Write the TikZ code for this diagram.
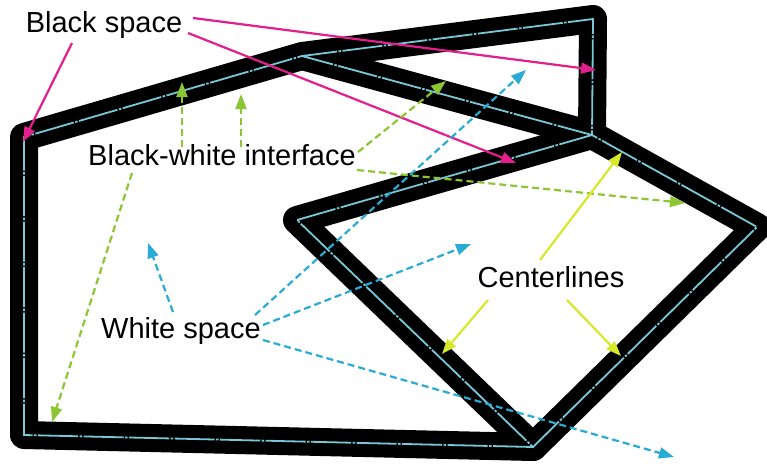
\documentclass[tikz,border=0pt]{standalone}
\usepackage{fontspec}
\setmainfont{Liberation Sans}
\usetikzlibrary{arrows.meta}
\definecolor{magline}{RGB}{228,30,140}
\definecolor{greenline}{RGB}{140,198,50}
\definecolor{cyanline}{RGB}{40,172,212}
\definecolor{yellowline}{RGB}{214,232,40}
\definecolor{centercol}{RGB}{120,200,215}
\tikzset{
  band/.style={line width=28pt, black, line join=round, line cap=round},
  cline/.style={line width=1.8pt, centercol, dash pattern=on 40pt off 1.5pt on 2.5pt off 1.5pt, line join=miter},
  lab/.style={font=\fontsize{29}{34}\selectfont, inner sep=0pt, anchor=base},
  tipA/.style={-{Triangle[length=15pt,width=11pt]}},
  bsarrow/.style={tipA, magline, line width=2.2pt},
  bwarrow/.style={tipA, greenline, line width=2.2pt, dash pattern=on 7pt off 4pt},
  wsarrow/.style={tipA, cyanline, line width=2.2pt, dash pattern=on 7pt off 4pt},
  clarrow/.style={tipA, yellowline, line width=2.2pt}
}
\begin{document}
\begin{tikzpicture}[x=1pt,y=-1pt]
\useasboundingbox (0,0) rectangle (767,464);
\fill[white] (0,0) rectangle (767,464);
% polygon vertices (centerline)
\coordinate (pBL) at (24,435);
\coordinate (pTL) at (24,137);
\coordinate (pTM) at (302,56);
\coordinate (pTR) at (593,19);
\coordinate (pJ) at (592,135);
\coordinate (pQL) at (297,220);
\coordinate (pQR) at (757,227);
\coordinate (pQB) at (533,447);
% black bands
\draw[band] (pQB) -- (pBL) -- (pTL) -- (pTM) -- (pTR) -- (pJ) -- (pTM);
\draw[band] (pQL) -- (pJ) -- (pQR) -- (pQB) -- cycle;
% centerlines
\draw[cline] (pQB) -- (pBL) -- (pTL) -- (pTM) -- (pTR) -- (pJ) -- (pTM);
\draw[cline] (pQL) -- (pJ) -- (pQR) -- (pQB) -- cycle;
% labels
\node[lab] (bs) at (104,32) {Black space};
\node[lab] (bw) at (222,165) {Black-white interface};
\node[lab] (ws) at (181,338) {White space};
\node[lab] (cl) at (551,287) {Centerlines};
% arrow end points
\coordinate (bs1s) at (72,43);   \coordinate (bs1e) at (23,142);
\coordinate (bs2s) at (193,18);  \coordinate (bs2e) at (596,70);
\coordinate (bs3s) at (188,33);  \coordinate (bs3e) at (516,163);
\coordinate (bw1s) at (182,147); \coordinate (bw1e) at (182,82);
\coordinate (bw2s) at (241,147); \coordinate (bw2e) at (241,94);
\coordinate (bw3s) at (358,152); \coordinate (bw3e) at (446,81);
\coordinate (bw4s) at (357,170); \coordinate (bw4e) at (685,203);
\coordinate (bw5s) at (132,173); \coordinate (bw5e) at (52,422);
\coordinate (ws1s) at (173,312); \coordinate (ws1e) at (148,243);
\coordinate (ws2s) at (255,315); \coordinate (ws2e) at (526,70);
\coordinate (ws3s) at (263,325); \coordinate (ws3e) at (471,244);
\coordinate (ws4s) at (263,340); \coordinate (ws4e) at (674,457);
\coordinate (cl1s) at (540,260); \coordinate (cl1e) at (622,152);
\coordinate (cl2s) at (488,300); \coordinate (cl2e) at (442,354);
\coordinate (cl3s) at (567,300); \coordinate (cl3e) at (621,356);
% arrows
\draw[bsarrow] (bs1s) -- (bs1e);
\draw[bsarrow] (bs2s) -- (bs2e);
\draw[bsarrow] (bs3s) -- (bs3e);
\draw[bwarrow] (bw1s) -- (bw1e);
\draw[bwarrow] (bw2s) -- (bw2e);
\draw[bwarrow] (bw3s) -- (bw3e);
\draw[bwarrow] (bw4s) -- (bw4e);
\draw[bwarrow] (bw5s) -- (bw5e);
\draw[wsarrow] (ws1s) -- (ws1e);
\draw[wsarrow] (ws2s) -- (ws2e);
\draw[wsarrow] (ws3s) -- (ws3e);
\draw[wsarrow] (ws4s) -- (ws4e);
\draw[clarrow] (cl1s) -- (cl1e);
\draw[clarrow] (cl2s) -- (cl2e);
\draw[clarrow] (cl3s) -- (cl3e);
\end{tikzpicture}
\end{document}
